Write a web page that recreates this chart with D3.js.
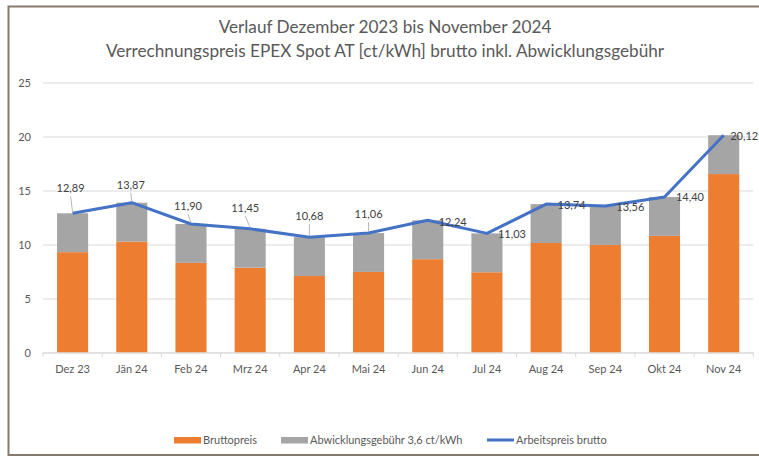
<!DOCTYPE html>
<html>
<head>
<meta charset="utf-8">
<script src="https://cdn.jsdelivr.net/npm/d3@7"></script>
<style>
  html, body { margin: 0; padding: 0; background: #fff; }
  svg { display: block; font-family: Lato, "Open Sans", sans-serif; }
</style>
</head>
<body>
<svg id="chart" width="759" height="457"></svg>
<script>
// ---- data ----
const categories = ["Dez 23","Jän 24","Feb 24","Mrz 24","Apr 24","Mai 24","Jun 24","Jul 24","Aug 24","Sep 24","Okt 24","Nov 24"];
const arbeitspreis = [12.89, 13.87, 11.90, 11.45, 10.68, 11.06, 12.24, 11.03, 13.74, 13.56, 14.40, 20.12];
const abwicklung = [3.6, 3.6, 3.6, 3.6, 3.6, 3.6, 3.6, 3.6, 3.6, 3.6, 3.6, 3.6];
const bruttopreis = [9.29, 10.27, 8.30, 7.85, 7.08, 7.46, 8.64, 7.43, 10.14, 9.96, 10.80, 16.52];
const yTicks = [0, 5, 10, 15, 20, 25];
const titleLines = ["Verlauf Dezember 2023 bis November 2024", "Verrechnungspreis EPEX Spot AT [ct/kWh] brutto inkl. Abwicklungsgebühr"];
const legendLabels = ["Bruttopreis", "Abwicklungsgebühr 3,6 ct/kWh", "Arbeitspreis brutto"];

// label placement (offsets relative to point), separate from data
const labelOffsets = [[-2,-25],[-1,-18],[-3,-18],[-5,-21],[0,-21],[0,-19],[25,1.5],[25,1],[25.5,1],[25,1.5],[25.5,0],[20.5,1]];

const svg = d3.select("#chart");
const colors = {orange: "#ED7D31", gray: "#A5A5A5", blue: "#4472C4", text: "#595959", grid: "#D9D9D9"};

// frame
svg.append("rect").attr("x", 8.5).attr("y", 6.5).attr("width", 770).attr("height", 448.5)
  .attr("fill", "#fff").attr("stroke", "#857A6B").attr("stroke-width", 2);

const x = d3.scaleBand().domain(categories).range([43, 753.3]).paddingInner(0.475).paddingOuter(0.2375);
const y = d3.scaleLinear().domain([0, 25]).range([352.5, 82.5]);

// title
svg.append("g").selectAll("text").data(titleLines).join("text")
  .attr("x", 385).attr("y", (d, i) => 33 + i * 24)
  .attr("text-anchor", "middle").attr("fill", colors.text)
  .attr("font-size", "17.2px").text(d => d);

// gridlines + y labels
const yAxis = d3.axisLeft(y).tickValues(yTicks).tickSize(-(753.3 - 43)).tickFormat(d3.format("d"));
const gy = svg.append("g").attr("transform", "translate(43,0)").call(yAxis);
gy.select(".domain").remove();
gy.selectAll(".tick line").attr("stroke", colors.grid).attr("stroke-width", 1);
gy.selectAll(".tick text").attr("fill", colors.text).attr("font-size", "11px").attr("x", -12)
  .attr("font-family", "Lato, sans-serif");

// stacked bars
const stackData = categories.map((c, i) => ({cat: c, brutto: bruttopreis[i], abw: abwicklung[i]}));
const series = d3.stack().keys(["brutto", "abw"])(stackData);
const fills = [colors.orange, colors.gray];
svg.append("g").selectAll("g").data(series).join("g")
  .attr("fill", (d, i) => fills[i])
  .selectAll("rect").data(d => d).join("rect")
  .attr("x", d => x(d.data.cat))
  .attr("width", x.bandwidth())
  .attr("y", d => y(d[1]))
  .attr("height", d => y(d[0]) - y(d[1]));

// x axis
const xAxisScale = d3.scaleBand().domain(categories).range([43, 753.3]);
const gx = svg.append("g").attr("transform", "translate(0,352.5)")
  .call(d3.axisBottom(xAxisScale).tickSize(0).tickSizeOuter(0));
gx.select(".domain").attr("stroke", colors.grid);
gx.selectAll(".tick text").attr("fill", colors.text).attr("font-size", "11px").attr("dy", "1.55em")
  .attr("font-family", "Lato, sans-serif");
// category separator ticks
const sepPositions = d3.range(categories.length + 1).map(i => 43 + i * xAxisScale.step());
svg.append("g").selectAll("line").data(sepPositions).join("line")
  .attr("x1", d => d).attr("x2", d => d).attr("y1", 352.5).attr("y2", 357)
  .attr("stroke", colors.grid);

// line
const cx = c => x(c) + x.bandwidth() / 2;
const line = d3.line().x((d, i) => cx(categories[i])).y(d => y(d));
svg.append("path").datum(arbeitspreis).attr("d", line)
  .attr("fill", "none").attr("stroke", colors.blue).attr("stroke-width", 3).attr("stroke-linejoin", "round");

// data labels + leaders
const lbl = svg.append("g");
arbeitspreis.forEach((v, i) => {
  const px = cx(categories[i]), py = y(v);
  const [dx, dy] = labelOffsets[i];
  if (dy < -15) {
    lbl.append("line").attr("x1", px + dx).attr("y1", py + dy + 8).attr("x2", px).attr("y2", py - 1)
      .attr("stroke", "#A6A6A6").attr("stroke-width", 0.8);
  }
  lbl.append("text").attr("x", px + dx).attr("y", py + dy).attr("dy", "0.35em")
    .attr("text-anchor", "middle").attr("fill", "#404040").attr("font-size", "11px")
    .text(d3.format(".2f")(v).replace(".", ","));
});

// legend
const leg = svg.append("g").attr("transform", "translate(0,440)");
const legItems = [
  {x: 174, label: legendLabels[0], type: "rect", color: colors.orange},
  {x: 281, label: legendLabels[1], type: "rect", color: colors.gray},
  {x: 487, label: legendLabels[2], type: "line", color: colors.blue}
];
legItems.forEach(it => {
  if (it.type === "rect") {
    leg.append("rect").attr("x", it.x).attr("y", -3).attr("width", 27).attr("height", 6.5).attr("fill", it.color);
  } else {
    leg.append("line").attr("x1", it.x).attr("x2", it.x + 27).attr("y1", 0).attr("y2", 0)
      .attr("stroke", it.color).attr("stroke-width", 3);
  }
  leg.append("text").attr("x", it.x + 29).attr("y", 0).attr("dy", "0.35em")
    .attr("fill", colors.text).attr("font-size", "11px").text(it.label);
});
</script>
</body>
</html>
